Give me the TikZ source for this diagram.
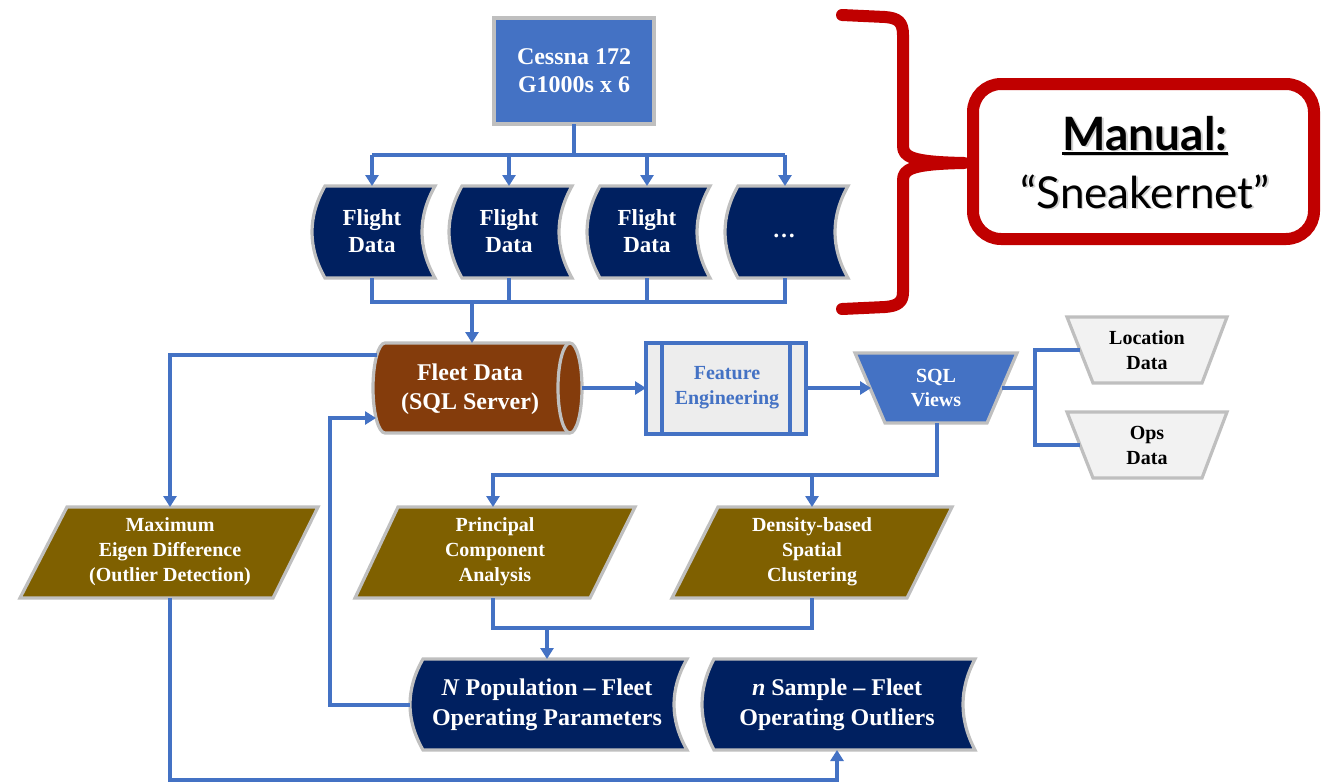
\documentclass[tikz,border=0pt]{standalone}
\usepackage{fontspec}
\setmainfont{Liberation Serif}
\newfontfamily\gillfont{Lato}
\usetikzlibrary{arrows.meta,calc}
\definecolor{lnblue}{HTML}{4472C4}
\definecolor{cblue}{HTML}{4472C4}
\definecolor{navy}{HTML}{002060}
\definecolor{brn}{HTML}{843C0C}
\definecolor{olive}{HTML}{7F6000}
\definecolor{bdgray}{HTML}{BFBFBF}
\definecolor{featfill}{HTML}{EDEDED}
\definecolor{lgray}{HTML}{F2F2F2}
\definecolor{dred}{HTML}{C00000}
\tikzset{
  conn/.style={draw=lnblue, line width=1.6pt},
  arr/.style={conn, -{Triangle[width=6.5pt,length=5.5pt]}},
  graybd/.style={draw=bdgray, line width=1.6pt, line join=miter},
  lbl/.style={align=center, inner sep=0pt, text=white, font=\bfseries\fontsize{10}{12.5}\selectfont},
  lblbig/.style={lbl, font=\bfseries\fontsize{12}{14.5}\selectfont},
  lblmid/.style={lbl, font=\bfseries\fontsize{11.5}{13.5}\selectfont},
}
% stored-data shape: #1 left corner x, #2 right corner x, #3 top y, #4 bottom y, #5 bulge, #6 style
\newcommand\sdshape[6]{%
  \path[#6] (#1,#3) -- (#2,#3)
    .. controls ({#2-4/3*#5},{#3+(#4-#3)/3}) and ({#2-4/3*#5},{#4-(#4-#3)/3}) .. (#2,#4)
    -- (#1,#4)
    .. controls ({#1-4/3*#5},{#4-(#4-#3)/3}) and ({#1-4/3*#5},{#3+(#4-#3)/3}) .. (#1,#3) -- cycle;}
\begin{document}
\begin{tikzpicture}[x=0.5pt,y=-0.5pt]
\useasboundingbox (0,0) rectangle (1327,782);

% ---------- Cessna ----------
\path[fill=cblue, graybd] (494,18) rectangle (654,124);
\node[lblbig, font=\bfseries\fontsize{12}{14}\selectfont] (cessna) at (574,71) {Cessna 172\\G1000s x 6};
\coordinate (cessna-b) at (574,124);

% ---------- Flight data ----------
\sdshape{325}{435}{186}{278}{13}{fill=navy,graybd}
\sdshape{462}{572}{186}{278}{13}{fill=navy,graybd}
\sdshape{600}{710}{186}{278}{13}{fill=navy,graybd}
\sdshape{738}{848}{186}{278}{13}{fill=navy,graybd}
\node[lblmid] (fd1) at (372,231) {Flight\\Data};
\node[lblmid] (fd2) at (509,231) {Flight\\Data};
\node[lblmid] (fd3) at (647,231) {Flight\\Data};
\node[lblmid] (fd4) at (784,236) {…};
\coordinate (fd1-t) at (372,186); \coordinate (fd1-b) at (372,278);
\coordinate (fd2-t) at (509,186); \coordinate (fd2-b) at (509,278);
\coordinate (fd3-t) at (647,186); \coordinate (fd3-b) at (647,278);
\coordinate (fd4-t) at (785,186); \coordinate (fd4-b) at (785,278);

% ---------- Fleet data cylinder ----------
\path[fill=brn, graybd] (385,343) -- (570,343)
  .. controls (576.6,343) and (582,363.1) .. (582,388)
  .. controls (582,412.9) and (576.6,433) .. (570,433)
  -- (385,433)
  .. controls (378.4,433) and (373,412.9) .. (373,388)
  .. controls (373,363.1) and (378.4,343) .. (385,343) -- cycle;
\draw[graybd] (570,343) .. controls (563.4,343) and (558,363.1) .. (558,388)
  .. controls (558,412.9) and (563.4,433) .. (570,433);
\node[lblbig] (fleet) at (470,389) {Fleet Data\\(SQL Server)};
\coordinate (fleet-t) at (472,343);
\coordinate (fleet-r) at (582,388);
\coordinate (fleet-l1) at (377,355);
\coordinate (fleet-l2) at (376,418);

% ---------- Feature engineering ----------
\path[fill=featfill, draw=lnblue, line width=1.6pt] (646,343) rectangle (806,434);
\draw[lnblue, line width=1.6pt] (662,343) -- (662,434) (790,343) -- (790,434);
\node[lbl, text=lnblue] (feat) at (727,388) {Feature\\Engineering};
\coordinate (feat-l) at (646,388);
\coordinate (feat-r) at (806,388);

% ---------- SQL views ----------
\path[fill=cblue, graybd] (855,353) -- (1017,353) -- (987,423) -- (885,423) -- cycle;
\node[lbl, font=\bfseries\fontsize{10}{12}\selectfont] (sql) at (936,388) {SQL\\Views};
\coordinate (sql-l) at (871,388);
\coordinate (sql-r) at (1002,388);
\coordinate (sql-b) at (937,423);

% ---------- Location / Ops ----------
\path[fill=lgray, graybd] (1067,317) -- (1227,317) -- (1202,383) -- (1093,383) -- cycle;
\path[fill=lgray, graybd] (1067,412) -- (1227,412) -- (1202,478) -- (1093,478) -- cycle;
\node[lbl, text=black] (loc) at (1147,350) {Location\\Data};
\node[lbl, text=black] (ops) at (1147,445) {Ops\\Data};
\coordinate (loc-l) at (1080,350);
\coordinate (ops-l) at (1080,445);

% ---------- Parallelograms ----------
\path[fill=olive, graybd] (67,507) -- (318,507) -- (273,598) -- (20,598) -- cycle;
\path[fill=olive, graybd] (398,507) -- (635,507) -- (590,598) -- (355,598) -- cycle;
\path[fill=olive, graybd] (718,507) -- (952,507) -- (907,598) -- (672,598) -- cycle;
\node[lbl] (maxe) at (170,552) {Maximum\\Eigen Difference\\(Outlier Detection)};
\node[lbl] (pca) at (495,552) {Principal\\Component\\Analysis};
\node[lbl] (dens) at (812,552) {Density-based\\Spatial\\Clustering};
\coordinate (maxe-t) at (170,507); \coordinate (maxe-b) at (170,598);
\coordinate (pca-t) at (493,507);  \coordinate (pca-b) at (493,598);
\coordinate (dens-t) at (812,507); \coordinate (dens-b) at (812,598);

% ---------- Outputs ----------
\sdshape{423}{687}{659}{750}{13}{fill=navy,graybd}
\sdshape{714}{975}{659}{750}{12}{fill=navy,graybd}
\node[lblbig, font=\bfseries\fontsize{12}{15}\selectfont] (npop) at (547,705) {\textit{N} Population – Fleet\\Operating Parameters};
\node[lblbig, font=\bfseries\fontsize{12}{15}\selectfont] (samp) at (837,705) {\textit{n} Sample – Fleet\\Operating Outliers};
\coordinate (npop-t) at (547,659);
\coordinate (npop-l) at (410,705);
\coordinate (samp-b) at (837,750);

% ---------- Connectors ----------
\draw[conn] (cessna-b) -- ++(0,31) coordinate (busA);
\draw[conn] (fd1-t |- busA) -- (fd4-t |- busA);
\draw[arr] (fd1-t |- busA) -- (fd1-t);
\draw[arr] (fd2-t |- busA) -- (fd2-t);
\draw[arr] (fd3-t |- busA) -- (fd3-t);
\draw[arr] (fd4-t |- busA) -- (fd4-t);

\draw[conn] (fd1-b) -- ++(0,24) coordinate (busB) -| (fd4-b);
\draw[conn] (fd2-b) -- (fd2-b |- busB);
\draw[conn] (fd3-b) -- (fd3-b |- busB);
\draw[arr] (fleet-t |- busB) -- (fleet-t);

\draw[arr] (fleet-r) -- (feat-l);
\draw[arr] (feat-r) -- (sql-l);

\draw[conn] (sql-r) -- ++(33,0) coordinate (jn);
\draw[conn] (jn) |- (loc-l);
\draw[conn] (jn) |- (ops-l);

\draw[conn] (sql-b) -- ++(0,52) coordinate (busC) -| ($(pca-t)+(0,-6)$);
\draw[arr] (pca-t |- busC) -- (pca-t);
\draw[arr] (dens-t |- busC) -- (dens-t);

\draw[conn] (pca-b) -- ++(0,30) coordinate (busD) -| (dens-b);
\draw[arr] (npop-t |- busD) -- (npop-t);

\draw[arr] (fleet-l1) -| (maxe-t);
\draw[arr] (npop-l) -- ++(-80,0) |- (fleet-l2);
\draw[arr] (maxe-b) -- ++(0,182) -| (samp-b);

% ---------- Manual brace & box ----------
\draw[dred, line width=6pt, line cap=round, line join=round]
  (842,15) -- (885,17) .. controls (898,18) and (903,22) .. (903,35)
  -- (903,146) .. controls (903,157) and (912,162) .. (964,163)
  .. controls (912,164) and (903,169) .. (903,180)
  -- (903,292) .. controls (903,302) and (898,306) .. (885,307) -- (842,309);
\draw[dred, line width=6pt, rounded corners=14pt, fill=white] (973,84) rectangle (1314,239);
\node[inner sep=0pt, anchor=base, font=\gillfont\bfseries\fontsize{23}{26}\selectfont, text=black!18] at (1146.5,151.5) {Manual:};
\node[inner sep=0pt, anchor=base, font=\gillfont\bfseries\fontsize{23}{26}\selectfont] (man) at (1145,150) {Manual:};
\draw[black!18, line width=1.5pt] ([xshift=0.75pt,yshift=-2.25pt]man.base west) -- ([xshift=0.75pt,yshift=-2.25pt]man.base east);
\draw[black, line width=1.5pt] ([yshift=-1.5pt]man.base west) -- ([yshift=-1.5pt]man.base east);
\node[inner sep=0pt, anchor=base, font=\gillfont\fontsize{22}{26}\selectfont, text=black!18] at (1146.5,209.5) {“Sneakernet”};
\node[inner sep=0pt, anchor=base, font=\gillfont\fontsize{22}{26}\selectfont] (snk) at (1145,208) {“Sneakernet”};
\end{tikzpicture}
\end{document}
